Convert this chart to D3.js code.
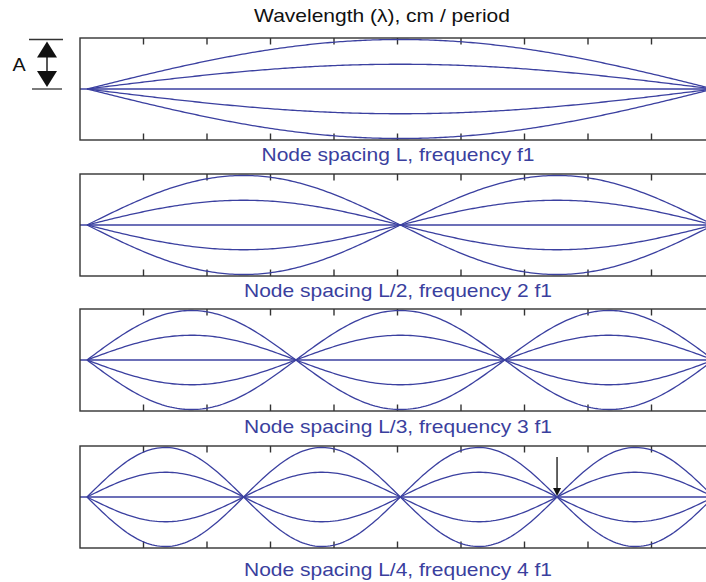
<!DOCTYPE html>
<html lang="en">
<head>
    <title>Standing waves</title>
    <script src="https://d3js.org/d3.v7.min.js" charset="utf-8"></script>
    <style>
    body {
        margin: 0;
        background: #fff;
        font-family: "Liberation Sans", Arial, Helvetica, sans-serif;
    }
    .frame {
        fill: none;
        stroke: #333;
        stroke-width: 1.4;
    }
    .tick {
        stroke: #333;
        stroke-width: 1.4;
    }
    .wave {
        fill: none;
        stroke: #3b40a0;
        stroke-width: 1.3;
    }
    .caption {
        fill: #3a3f9e;
        font-size: 17.5px;
    }
    </style>
</head>
<body>
    <script>

    // harmonic number for each panel, top to bottom
    var harmonics = [1, 2, 3, 4];
    var captions = [
        "Node spacing L, frequency f1",
        "Node spacing L/2, frequency 2 f1",
        "Node spacing L/3, frequency 3 f1",
        "Node spacing L/4, frequency 4 f1"
    ];
    // snapshots of the string, as fraction of the full amplitude A
    var amplitudes = [1, 0.5, 0, -0.5, -1];
    // x axis, in tick units (box spans 0..10)
    var xDomain = [0, 10];
    var tickValues = [1, 2, 3, 4, 5, 6, 7, 8, 9];
    // the two fixed ends of the string
    var waveStart = 0.11,
        waveEnd = 9.98;
    // the arrow in the last panel points at node number 3
    var arrowPanel = 3, arrowNode = 3;

    var width = 706,
        height = 582;

    var panelTop = [38, 174, 309, 446],
        panelH = 102,
        captionY = [161, 297, 433, 576];

    var x = d3.scaleLinear()
        .domain(xDomain)
        .range([80, 715]);

    var svg = d3.select("body")
        .append("svg")
        .attr("width", width)
        .attr("height", height);

    // title
    svg.append("text")
        .attr("transform", "translate(382,22) scale(1.2,1)")
        .attr("text-anchor", "middle")
        .attr("fill", "#111")
        .style("font-size", "17.5px")
        .text("Wavelength (\u03bb), cm / period");

    var sample = d3.range(0, 1.0001, 0.004);

    harmonics.forEach(function(n, i) {
        var y = d3.scaleLinear()
            .domain([-1.03, 1.03])
            .range([panelTop[i] + panelH, panelTop[i]]);

        var g = svg.append("g");

        // ticks on top and bottom edges, pointing inward
        tickValues.forEach(function(t) {
            g.append("line").attr("class", "tick")
                .attr("x1", x(t)).attr("x2", x(t))
                .attr("y1", panelTop[i]).attr("y2", panelTop[i] + 6.5);
            g.append("line").attr("class", "tick")
                .attr("x1", x(t)).attr("x2", x(t))
                .attr("y1", panelTop[i] + panelH).attr("y2", panelTop[i] + panelH - 6.5);
        });

        var line = d3.line()
            .x(function(d) { return x(waveStart + d.u * (waveEnd - waveStart)); })
            .y(function(d) { return y(d.a * Math.sin(Math.PI * n * d.u)); });

        amplitudes.forEach(function(a) {
            if (a === 0) {
                // rest position drawn across the whole box
                g.append("line").attr("class", "wave")
                    .attr("x1", x(xDomain[0])).attr("x2", x(xDomain[1]))
                    .attr("y1", y(0)).attr("y2", y(0));
                return;
            }
            g.append("path").attr("class", "wave")
                .attr("d", line(sample.map(function(u) { return {u: u, a: a}; })));
        });

        g.append("rect").attr("class", "frame")
            .attr("x", x(xDomain[0]))
            .attr("y", panelTop[i])
            .attr("width", x(xDomain[1]) - x(xDomain[0]))
            .attr("height", panelH);

        svg.append("text")
            .attr("class", "caption")
            .attr("transform", "translate(398," + captionY[i] + ") scale(1.2,1)")
            .attr("text-anchor", "middle")
            .text(captions[i]);

        // arrow pointing at a node
        if (i === arrowPanel) {
            var nx = x(waveStart + arrowNode / n * (waveEnd - waveStart)),
                ny = y(0);
            svg.append("line")
                .attr("x1", nx).attr("x2", nx)
                .attr("y1", ny - 40).attr("y2", ny - 8)
                .attr("stroke", "#222").attr("stroke-width", 1.4);
            svg.append("path")
                .attr("d", "M" + (nx - 4) + "," + (ny - 9) + "L" + (nx + 4) + "," + (ny - 9) + "L" + nx + "," + (ny - 1) + "Z")
                .attr("fill", "#111");
        }
    });

    // amplitude marker on the left of the first panel
    var y0 = d3.scaleLinear().domain([-1.03, 1.03]).range([panelTop[0] + panelH, panelTop[0]]);
    var ax = 47, aTop = y0(1), aMid = y0(0);
    svg.append("line").attr("x1", 29).attr("x2", 63).attr("y1", aTop).attr("y2", aTop)
        .attr("stroke", "#333").attr("stroke-width", 1.3);
    svg.append("line").attr("x1", 32).attr("x2", 62).attr("y1", aMid).attr("y2", aMid)
        .attr("stroke", "#333").attr("stroke-width", 1.3);
    svg.append("line").attr("x1", ax).attr("x2", ax).attr("y1", aTop + 16).attr("y2", aMid - 16)
        .attr("stroke", "#111").attr("stroke-width", 1.4);
    svg.append("path")
        .attr("d", "M" + ax + "," + (aTop + 2) + "L" + (ax + 10) + "," + (aTop + 18) + "L" + (ax - 10) + "," + (aTop + 18) + "Z")
        .attr("fill", "#111");
    svg.append("path")
        .attr("d", "M" + ax + "," + (aMid - 2) + "L" + (ax + 10) + "," + (aMid - 18) + "L" + (ax - 10) + "," + (aMid - 18) + "Z")
        .attr("fill", "#111");
    svg.append("text")
        .attr("transform", "translate(19," + (aMid - 18) + ") scale(1.1,1)")
        .attr("text-anchor", "middle")
        .attr("fill", "#111")
        .style("font-size", "18px")
        .text("A");

    </script>
</body>
</html>
